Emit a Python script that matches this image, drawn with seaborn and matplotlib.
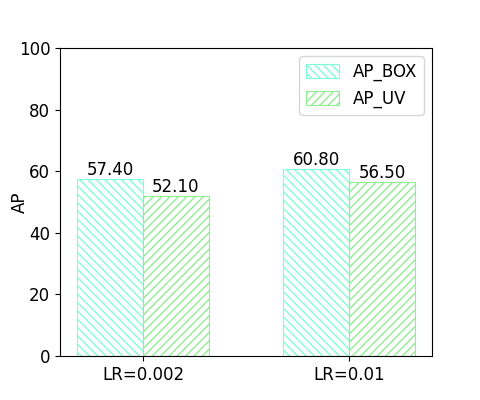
import numpy as np
import matplotlib
matplotlib.use("Agg")
import matplotlib.pyplot as plt
import seaborn as sns
import pandas as pd

groups = ["LR=0.002", "LR=0.01"]
series = ["AP_BOX", "AP_UV"]
ap_box = [57.40, 60.80]
ap_uv = [52.10, 56.50]

df = pd.DataFrame({
    "group": groups * 2,
    "metric": [series[0]] * 2 + [series[1]] * 2,
    "AP": ap_box + ap_uv,
})

colors = ["aquamarine", "lightgreen"]
hatches = ["\\\\\\\\", "////"]

plt.rcParams["font.size"] = 12
fig, ax = plt.subplots(figsize=(4.8, 4.0), dpi=100)

sns.barplot(data=df, x="group", y="AP", hue="metric", palette=colors,
            width=0.64, fill=False, legend=False, ax=ax, errorbar=None)

# white fill, coloured edge + hatch
for cont, c, h in zip(ax.containers, colors, hatches):
    for p in cont:
        p.set_hatch(h)
        p.set_edgecolor(c)
        p.set_facecolor("white")
        p.set_linewidth(0.8)
    ax.bar_label(cont, fmt="%.2f", fontsize=12)

ax.legend(ax.containers, series, loc="upper right", fontsize=12,
          handleheight=0.9)
ax.set_xlim(-0.403, 1.403)
ax.set_ylim(0, 100)
ax.set_xlabel("")
ax.set_ylabel("AP", fontsize=12)
ax.yaxis.set_label_coords(-0.083, 0.5)
ax.tick_params(labelsize=12)

fig.savefig("out.png", dpi=100)
